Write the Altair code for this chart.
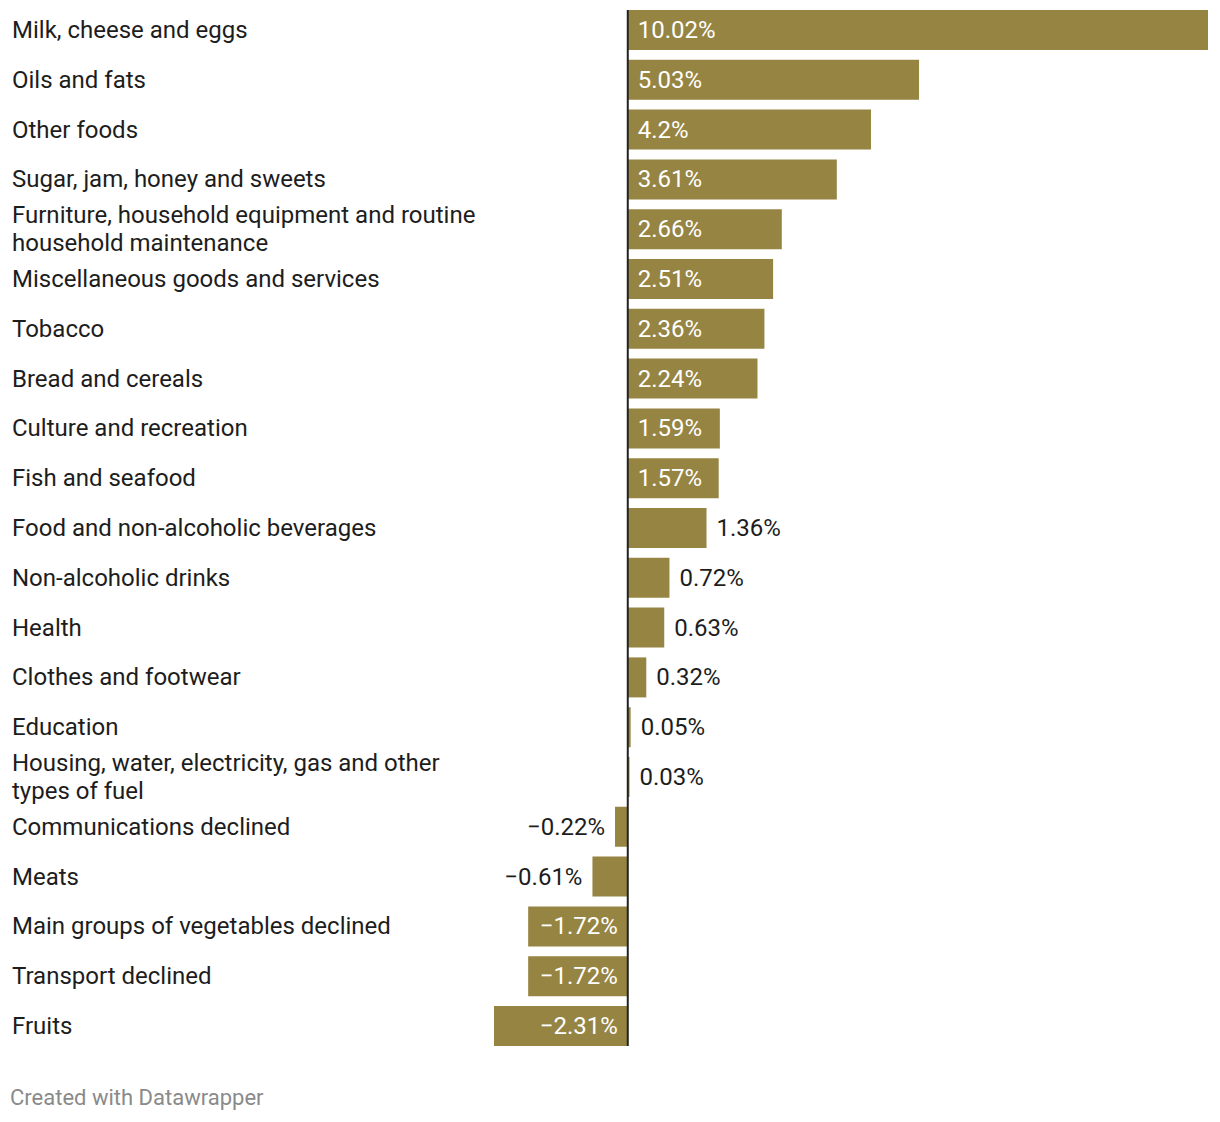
import altair as alt
import pandas as pd

categories = [
    "Milk, cheese and eggs",
    "Oils and fats",
    "Other foods",
    "Sugar, jam, honey and sweets",
    "Furniture, household equipment and routine\nhousehold maintenance",
    "Miscellaneous goods and services",
    "Tobacco",
    "Bread and cereals",
    "Culture and recreation",
    "Fish and seafood",
    "Food and non-alcoholic beverages",
    "Non-alcoholic drinks",
    "Health",
    "Clothes and footwear",
    "Education",
    "Housing, water, electricity, gas and other\ntypes of fuel",
    "Communications declined",
    "Meats",
    "Main groups of vegetables declined",
    "Transport declined",
    "Fruits",
]
values = [10.02, 5.03, 4.2, 3.61, 2.66, 2.51, 2.36, 2.24, 1.59, 1.57, 1.36,
          0.72, 0.63, 0.32, 0.05, 0.03, -0.22, -0.61, -1.72, -1.72, -2.31]
footer = "Created with Datawrapper"

BAR = "#968442"
FONT = "Roboto"
FS = 24

df = pd.DataFrame({"id": list(range(len(categories))), "cat": categories, "v": values})
df["label"] = [(f"{v:g}%").replace("-", "\u2212") for v in values]
df["inside"] = [abs(v) >= 1.5 for v in values]
df["lx"] = [0 if ins else v for v, ins in zip(values, df["inside"])]
df["multi"] = ["\n" in c for c in categories]

x_scale = alt.Scale(domain=[-2.31, 10.02], nice=False, zero=False)
y_scale = alt.Scale(paddingInner=0.1968, paddingOuter=0)
y_enc = alt.Y("id:O", scale=y_scale, axis=None)

base = alt.Chart(df)

bars = base.mark_bar(color=BAR).encode(
    x=alt.X("v:Q", scale=x_scale, axis=None),
    x2=alt.datum(0),
    y=y_enc,
)

zero = alt.Chart(pd.DataFrame({"z": [0]})).mark_rule(color="#222222", strokeWidth=2).encode(
    x=alt.X("z:Q", scale=x_scale)
)

cat_single = base.transform_filter("!datum.multi").mark_text(
    align="left", baseline="middle", font=FONT, fontSize=FS, color="#1d1d1d", dy=1,
).encode(
    x=alt.value(-482),
    y=y_enc,
    text="cat:N",
)

cat_multi = base.transform_filter("datum.multi").mark_text(
    align="left", baseline="middle", font=FONT, fontSize=FS, color="#1d1d1d",
    lineBreak="\n", lineHeight=28, dy=-13,
).encode(
    x=alt.value(-482),
    y=y_enc,
    text="cat:N",
)

color_cond = alt.condition("datum.inside", alt.value("white"), alt.value("#1d1d1d"))

pos_labels = base.transform_filter("datum.v >= 0").mark_text(
    align="left", baseline="middle", font=FONT, fontSize=FS, dx=10, dy=1,
).encode(
    x=alt.X("lx:Q", scale=x_scale),
    y=y_enc,
    text="label:N",
    color=color_cond,
)

neg_labels = base.transform_filter("datum.v < 0").mark_text(
    align="right", baseline="middle", font=FONT, fontSize=FS, dx=-10, dy=1,
).encode(
    x=alt.X("lx:Q", scale=x_scale),
    y=y_enc,
    text="label:N",
    color=color_cond,
)

foot = alt.Chart(pd.DataFrame({"t": [footer]})).mark_text(
    align="left", baseline="middle", font=FONT, fontSize=22, color="#8a8a8a",
).encode(
    x=alt.value(-484),
    y=alt.value(1088),
    text="t:N",
)

chart = alt.layer(bars, zero, cat_single, cat_multi, pos_labels, neg_labels, foot).properties(
    width=714,
    height=1036,
    autosize=alt.AutoSizeParams(type="none"),
    padding={"left": 486, "top": 2, "right": 4, "bottom": 80},
    background="white",
).configure_view(stroke=None)

chart.save("out.html", embed_options={"renderer": "svg", "actions": False})
